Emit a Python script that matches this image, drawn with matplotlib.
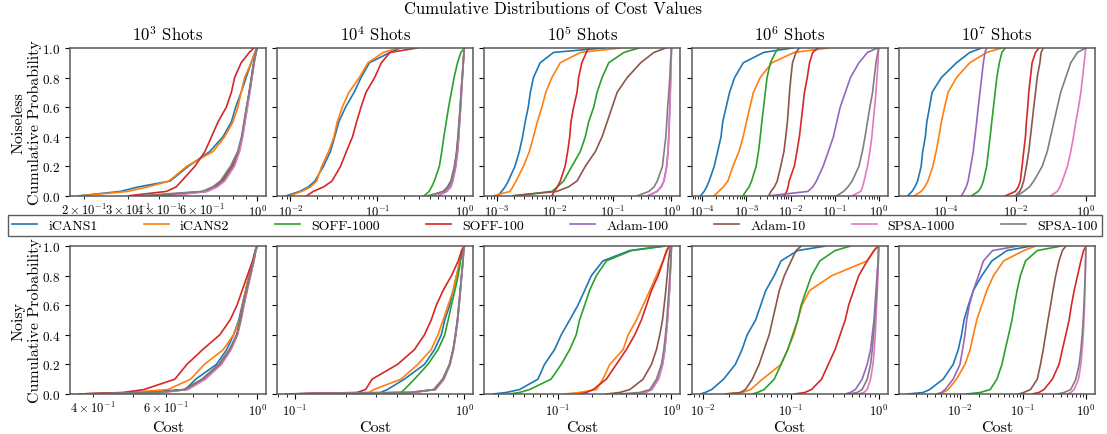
import matplotlib
matplotlib.use("Agg")
import matplotlib.pyplot as plt
from matplotlib.ticker import LogLocator

plt.rcParams["font.family"] = "serif"
plt.rcParams["font.serif"] = ["cmr10"]
plt.rcParams["mathtext.fontset"] = "cm"
plt.rcParams["axes.formatter.use_mathtext"] = True
plt.rcParams["xtick.labelsize"] = 9
plt.rcParams["ytick.labelsize"] = 9.5
plt.rcParams["xtick.major.pad"] = 2.5
plt.rcParams["xtick.minor.pad"] = 2.5

methods = ["iCANS1", "iCANS2", "SOFF-1000", "SOFF-100",
           "Adam-100", "Adam-10", "SPSA-1000", "SPSA-100"]
shots = ["$10^3$ Shots", "$10^4$ Shots", "$10^5$ Shots", "$10^6$ Shots", "$10^7$ Shots"]

# cumulative probability levels at which the cost quantiles were read
p_noiseless = [0, 0.03, 0.06, 0.1, 0.2, 0.3, 0.4, 0.5, 0.6, 0.7, 0.8, 0.9, 0.97, 1.0]
p_noisy = [0, 0.01, 0.03, 0.1, 0.2, 0.3, 0.4, 0.5, 0.6, 0.7, 0.8, 0.9, 0.97, 1.0]

# cost quantiles, one row per method (same order as methods)
noiseless_1e3 = [
    [0.19, 0.28, 0.33, 0.445, 0.527, 0.644, 0.728, 0.787, 0.819, 0.862, 0.903, 0.946, 0.98, 1.0],
    [0.193, 0.30, 0.36, 0.44, 0.519, 0.664, 0.739, 0.799, 0.836, 0.862, 0.89, 0.946, 0.98, 1.0],
    [0.40, 0.62, 0.68, 0.73, 0.80, 0.845, 0.872, 0.892, 0.912, 0.932, 0.952, 0.972, 0.99, 1.0],
    [0.30, 0.43, 0.47, 0.495, 0.56, 0.615, 0.654, 0.695, 0.751, 0.787, 0.811, 0.862, 0.93, 0.97],
    [0.42, 0.62, 0.68, 0.72, 0.80, 0.845, 0.87, 0.89, 0.91, 0.93, 0.95, 0.97, 0.99, 1.0],
    [0.36, 0.61, 0.67, 0.72, 0.79, 0.84, 0.868, 0.888, 0.908, 0.928, 0.948, 0.968, 0.99, 1.0],
    [0.45, 0.63, 0.69, 0.74, 0.81, 0.85, 0.875, 0.895, 0.915, 0.935, 0.955, 0.975, 0.99, 1.0],
    [0.33, 0.60, 0.66, 0.71, 0.78, 0.835, 0.865, 0.885, 0.905, 0.93, 0.95, 0.97, 0.99, 1.0],
]
noiseless_1e4 = [
    [0.0089, 0.0128, 0.016, 0.0191, 0.024, 0.0288, 0.0323, 0.036, 0.043, 0.054, 0.0648, 0.081, 0.14, 0.183],
    [0.0097, 0.0135, 0.017, 0.020, 0.0229, 0.0275, 0.0317, 0.0345, 0.0395, 0.047, 0.062, 0.078, 0.117, 0.175],
    [0.344, 0.394, 0.42, 0.452, 0.517, 0.551, 0.582, 0.62, 0.66, 0.71, 0.763, 0.835, 0.914, 1.0],
    [0.0153, 0.0183, 0.024, 0.030, 0.0377, 0.044, 0.0518, 0.0576, 0.0648, 0.074, 0.093, 0.111, 0.14, 0.288],
    [0.50, 0.63, 0.70, 0.74, 0.80, 0.84, 0.865, 0.885, 0.91, 0.93, 0.952, 0.975, 0.99, 1.0],
    [0.40, 0.57, 0.64, 0.70, 0.77, 0.815, 0.845, 0.87, 0.895, 0.918, 0.945, 0.97, 0.99, 1.0],
    [0.48, 0.62, 0.69, 0.73, 0.79, 0.835, 0.862, 0.883, 0.906, 0.928, 0.95, 0.974, 0.99, 1.0],
    [0.377, 0.59, 0.66, 0.71, 0.777, 0.82, 0.85, 0.873, 0.90, 0.92, 0.947, 0.973, 0.99, 1.0],
]
noiseless_1e5 = [
    [0.00107, 0.00122, 0.0014, 0.00159, 0.00207, 0.00246, 0.0028, 0.0031, 0.0035, 0.0038, 0.0043, 0.0056, 0.0095, 0.069],
    [0.00088, 0.0017, 0.0019, 0.00216, 0.0029, 0.00366, 0.0043, 0.005, 0.006, 0.007, 0.0089, 0.0124, 0.0274, 0.134],
    [0.0019, 0.0089, 0.011, 0.0141, 0.0196, 0.0273, 0.0333, 0.038, 0.0464, 0.053, 0.0646, 0.084, 0.153, 0.277],
    [0.0089, 0.0098, 0.011, 0.0124, 0.015, 0.0166, 0.018, 0.0189, 0.021, 0.024, 0.0256, 0.029, 0.0347, 0.038],
    [0.40, 0.56, 0.66, 0.74, 0.825, 0.87, 0.895, 0.915, 0.935, 0.952, 0.968, 0.984, 0.995, 1.0],
    [0.0019, 0.0108, 0.017, 0.024, 0.0333, 0.0496, 0.0646, 0.0788, 0.096, 0.117, 0.174, 0.296, 0.50, 0.80],
    [0.385, 0.57, 0.67, 0.747, 0.83, 0.876, 0.90, 0.92, 0.94, 0.955, 0.97, 0.985, 0.995, 1.0],
    [0.26, 0.41, 0.50, 0.57, 0.70, 0.747, 0.80, 0.83, 0.86, 0.90, 0.935, 0.96, 0.987, 1.0],
]
noiseless_1e6 = [
    [9.1e-5, 1.1e-4, 1.25e-4, 1.43e-4, 1.86e-4, 2.23e-4, 2.66e-4, 2.9e-4, 3.47e-4, 4.15e-4, 5.4e-4, 8.5e-4, 2.46e-3, 0.0111],
    [1.86e-4, 2.34e-4, 3.0e-4, 3.8e-4, 4.95e-4, 6.8e-4, 8.45e-4, 1.0e-3, 1.2e-3, 1.44e-3, 2.06e-3, 3.8e-3, 0.0122, 0.072],
    [8.4e-4, 9.7e-4, 1.15e-3, 1.31e-3, 1.66e-3, 1.88e-3, 2.06e-3, 2.24e-3, 2.45e-3, 2.68e-3, 2.94e-3, 3.5e-3, 4.57e-3, 5.46e-3],
    [7.1e-3, 8.2e-3, 8.8e-3, 9.3e-3, 0.0122, 0.014, 0.0159, 0.0174, 0.019, 0.0207, 0.024, 0.027, 0.032, 0.042],
    [3.2e-3, 0.0248, 0.032, 0.0386, 0.055, 0.072, 0.094, 0.112, 0.134, 0.175, 0.229, 0.356, 0.556, 0.95],
    [3.2e-3, 3.6e-3, 4.3e-3, 5.0e-3, 6.0e-3, 7.1e-3, 7.8e-3, 8.5e-3, 9.0e-3, 9.5e-3, 0.0102, 0.0111, 0.0133, 0.0159],
    [0.25, 0.39, 0.43, 0.466, 0.556, 0.63, 0.70, 0.75, 0.81, 0.867, 0.91, 0.965, 0.985, 1.0],
    [0.112, 0.16, 0.20, 0.25, 0.356, 0.426, 0.49, 0.556, 0.63, 0.726, 0.79, 0.867, 0.95, 1.0],
]
noiseless_1e7 = [
    [7.8e-6, 1.04e-5, 1.25e-5, 1.5e-5, 1.9e-5, 2.1e-5, 2.5e-5, 2.75e-5, 3.3e-5, 3.9e-5, 7.2e-5, 1.95e-4, 4.7e-4, 1.03e-3],
    [1.2e-5, 1.9e-5, 2.4e-5, 2.95e-5, 4.1e-5, 5.1e-5, 6.1e-5, 7.2e-5, 8.9e-5, 1.12e-4, 1.95e-4, 4.7e-4, 1.44e-3, 3.9e-3],
    [5.3e-4, 8.2e-4, 1.0e-3, 1.15e-3, 1.43e-3, 1.6e-3, 1.8e-3, 2.0e-3, 2.24e-3, 2.5e-3, 2.8e-3, 3.3e-3, 3.9e-3, 4.9e-3],
    [4.9e-3, 9.5e-3, 0.0115, 0.0132, 0.0148, 0.0165, 0.0185, 0.0197, 0.0215, 0.023, 0.0257, 0.0287, 0.036, 0.045],
    [2.7e-4, 3.2e-4, 3.7e-4, 4.2e-4, 5.0e-4, 5.9e-4, 6.6e-4, 7.4e-4, 8.2e-4, 9.2e-4, 1.03e-3, 1.15e-3, 1.28e-3, 1.43e-3],
    [9.5e-3, 0.0127, 0.0145, 0.0165, 0.0197, 0.023, 0.0257, 0.0287, 0.032, 0.036, 0.040, 0.048, 0.052, 0.06],
    [0.097, 0.151, 0.18, 0.211, 0.295, 0.368, 0.44, 0.514, 0.614, 0.717, 0.80, 0.895, 0.956, 1.0],
    [0.0106, 0.0165, 0.024, 0.032, 0.056, 0.078, 0.097, 0.121, 0.151, 0.189, 0.264, 0.368, 0.574, 1.0],
]

noisy_1e3 = [
    [0.37, 0.52, 0.67, 0.71, 0.797, 0.844, 0.877, 0.903, 0.92, 0.938, 0.956, 0.979, 0.99, 1.0],
    [0.37, 0.49, 0.608, 0.69, 0.745, 0.828, 0.877, 0.908, 0.922, 0.938, 0.956, 0.979, 0.99, 1.0],
    [0.40, 0.57, 0.67, 0.74, 0.812, 0.86, 0.894, 0.912, 0.926, 0.944, 0.962, 0.981, 0.992, 1.0],
    [0.37, 0.473, 0.532, 0.632, 0.676, 0.738, 0.812, 0.86, 0.894, 0.92, 0.947, 0.975, 0.99, 1.0],
    [0.40, 0.58, 0.675, 0.745, 0.815, 0.862, 0.895, 0.913, 0.928, 0.945, 0.963, 0.982, 0.992, 1.0],
    [0.38, 0.57, 0.665, 0.735, 0.808, 0.857, 0.892, 0.91, 0.925, 0.943, 0.961, 0.98, 0.992, 1.0],
    [0.42, 0.59, 0.68, 0.75, 0.82, 0.865, 0.897, 0.915, 0.93, 0.947, 0.965, 0.983, 0.993, 1.0],
    [0.37, 0.574, 0.67, 0.738, 0.812, 0.86, 0.894, 0.912, 0.926, 0.944, 0.962, 0.981, 0.992, 1.0],
]
noisy_1e4 = [
    [0.089, 0.321, 0.352, 0.443, 0.582, 0.668, 0.732, 0.767, 0.82, 0.86, 0.9, 0.942, 0.97, 1.0],
    [0.089, 0.274, 0.293, 0.423, 0.532, 0.638, 0.70, 0.75, 0.803, 0.86, 0.9, 0.942, 0.97, 1.0],
    [0.089, 0.423, 0.443, 0.508, 0.61, 0.70, 0.767, 0.803, 0.84, 0.88, 0.921, 0.95, 0.973, 1.0],
    [0.089, 0.233, 0.262, 0.286, 0.404, 0.508, 0.582, 0.638, 0.684, 0.75, 0.84, 0.921, 0.964, 1.0],
    [0.089, 0.49, 0.67, 0.755, 0.823, 0.862, 0.89, 0.913, 0.931, 0.948, 0.965, 0.982, 0.991, 1.0],
    [0.089, 0.48, 0.66, 0.745, 0.817, 0.858, 0.886, 0.91, 0.928, 0.946, 0.963, 0.981, 0.99, 1.0],
    [0.089, 0.50, 0.68, 0.76, 0.826, 0.865, 0.892, 0.915, 0.933, 0.95, 0.966, 0.983, 0.992, 1.0],
    [0.089, 0.485, 0.668, 0.75, 0.82, 0.86, 0.888, 0.912, 0.93, 0.947, 0.964, 0.982, 0.991, 1.0],
]
noisy_1e5 = [
    [0.027, 0.035, 0.046, 0.0667, 0.0762, 0.0934, 0.107, 0.127, 0.15, 0.172, 0.197, 0.249, 0.429, 0.844],
    [0.115, 0.155, 0.218, 0.249, 0.286, 0.375, 0.415, 0.491, 0.562, 0.644, 0.737, 0.844, 0.916, 0.954],
    [0.0375, 0.046, 0.0563, 0.087, 0.107, 0.127, 0.145, 0.155, 0.172, 0.19, 0.218, 0.267, 0.444, 0.874],
    [0.155, 0.178, 0.204, 0.267, 0.327, 0.40, 0.475, 0.543, 0.602, 0.666, 0.763, 0.844, 0.903, 0.954],
    [0.43, 0.58, 0.666, 0.763, 0.833, 0.873, 0.897, 0.922, 0.941, 0.96, 0.973, 0.987, 0.995, 1.0],
    [0.267, 0.35, 0.43, 0.562, 0.666, 0.737, 0.789, 0.833, 0.862, 0.891, 0.916, 0.941, 0.967, 0.98],
    [0.44, 0.59, 0.675, 0.77, 0.838, 0.876, 0.9, 0.924, 0.943, 0.962, 0.975, 0.988, 0.996, 1.0],
    [0.35, 0.525, 0.644, 0.737, 0.816, 0.856, 0.885, 0.91, 0.928, 0.947, 0.967, 0.987, 0.995, 1.0],
]
noisy_1e6 = [
    [0.0094, 0.0106, 0.0126, 0.0172, 0.0234, 0.0279, 0.0319, 0.0398, 0.0455, 0.0519, 0.0648, 0.0775, 0.12, 0.245],
    [0.0179, 0.028, 0.035, 0.0476, 0.0775, 0.092, 0.108, 0.12, 0.134, 0.164, 0.292, 0.74, 0.884, 0.965],
    [0.0365, 0.0417, 0.0497, 0.0648, 0.0775, 0.0923, 0.105, 0.12, 0.131, 0.15, 0.172, 0.214, 0.319, 0.475],
    [0.110, 0.144, 0.172, 0.224, 0.267, 0.319, 0.364, 0.416, 0.455, 0.519, 0.593, 0.74, 0.884, 1.0],
    [0.416, 0.475, 0.543, 0.648, 0.74, 0.808, 0.845, 0.884, 0.907, 0.931, 0.957, 0.982, 0.995, 1.0],
    [0.0179, 0.0267, 0.0305, 0.0365, 0.0436, 0.0497, 0.0568, 0.062, 0.0678, 0.074, 0.0845, 0.101, 0.115, 0.131],
    [0.593, 0.677, 0.74, 0.808, 0.86, 0.891, 0.915, 0.931, 0.948, 0.965, 0.982, 0.99, 0.995, 1.0],
    [0.455, 0.567, 0.648, 0.74, 0.808, 0.845, 0.875, 0.899, 0.923, 0.948, 0.965, 0.99, 0.995, 1.0],
]
noisy_1e7 = [
    [0.00148, 0.0026, 0.0033, 0.0054, 0.0078, 0.0094, 0.0106, 0.0116, 0.0136, 0.0163, 0.0222, 0.0321, 0.0558, 0.132],
    [0.0045, 0.0054, 0.0065, 0.0088, 0.012, 0.0145, 0.0163, 0.0185, 0.0222, 0.0267, 0.0341, 0.0494, 0.103, 0.158],
    [0.0128, 0.0209, 0.0302, 0.0386, 0.0464, 0.0522, 0.0593, 0.067, 0.0731, 0.0807, 0.0912, 0.11, 0.169, 0.398],
    [0.14, 0.179, 0.216, 0.293, 0.374, 0.423, 0.479, 0.541, 0.589, 0.651, 0.736, 0.832, 0.918, 1.0],
    [0.0042, 0.0051, 0.0058, 0.0078, 0.01, 0.011, 0.012, 0.0128, 0.0141, 0.0163, 0.0197, 0.0236, 0.033, 0.0807],
    [0.0858, 0.103, 0.132, 0.169, 0.19, 0.21, 0.229, 0.25, 0.275, 0.30, 0.331, 0.374, 0.423, 0.479],
    [0.508, 0.575, 0.65, 0.763, 0.832, 0.873, 0.906, 0.929, 0.952, 0.964, 0.976, 0.988, 0.995, 1.0],
    [0.352, 0.45, 0.575, 0.692, 0.782, 0.832, 0.873, 0.906, 0.929, 0.952, 0.976, 0.988, 0.995, 1.0],
]

noiseless = [noiseless_1e3, noiseless_1e4, noiseless_1e5, noiseless_1e6, noiseless_1e7]
noisy = [noisy_1e3, noisy_1e4, noisy_1e5, noisy_1e6, noisy_1e7]

fig, axes = plt.subplots(2, 5, figsize=(11.07, 4.35), dpi=100, sharey=True)
plt.subplots_adjust(left=0.0632, right=0.989, top=0.8874, bottom=0.092,
                    wspace=0.057, hspace=0.34)

for col in range(5):
    for row, (data, probs) in enumerate([(noiseless[col], p_noiseless), (noisy[col], p_noisy)]):
        ax = axes[row, col]
        ax.set_xscale("log")
        ax.xaxis.set_major_locator(LogLocator(numticks=5))
        for i, name in enumerate(methods):
            ax.plot(data[i], probs, color=f"C{i}", lw=1.2, label=name)
        ax.set_ylim(0, 1)
        for s in ax.spines.values():
            s.set_color("0.35")
            s.set_linewidth(1.1)
    axes[0, col].set_title(shots[col], fontsize=12)
    axes[1, col].set_xlabel("Cost", fontsize=11.5, labelpad=2)

axes[0, 0].set_ylabel("Noiseless\nCumulative Probability", fontsize=11.5, labelpad=0)
axes[1, 0].set_ylabel("Noisy\nCumulative Probability", fontsize=11.5, labelpad=0)

handles, labels = axes[0, 0].get_legend_handles_labels()
fig.legend(handles, labels, loc="center", ncol=8, mode="expand",
           bbox_to_anchor=(0.0072, 0.4575, 0.988, 0.0437), borderaxespad=0,
           fancybox=False, edgecolor="0.2", fontsize=10, handlelength=1.8,
           borderpad=0.3)

fig.suptitle("Cumulative Distributions of Cost Values", fontsize=12, y=0.995)

plt.savefig("out.png", dpi=100)
